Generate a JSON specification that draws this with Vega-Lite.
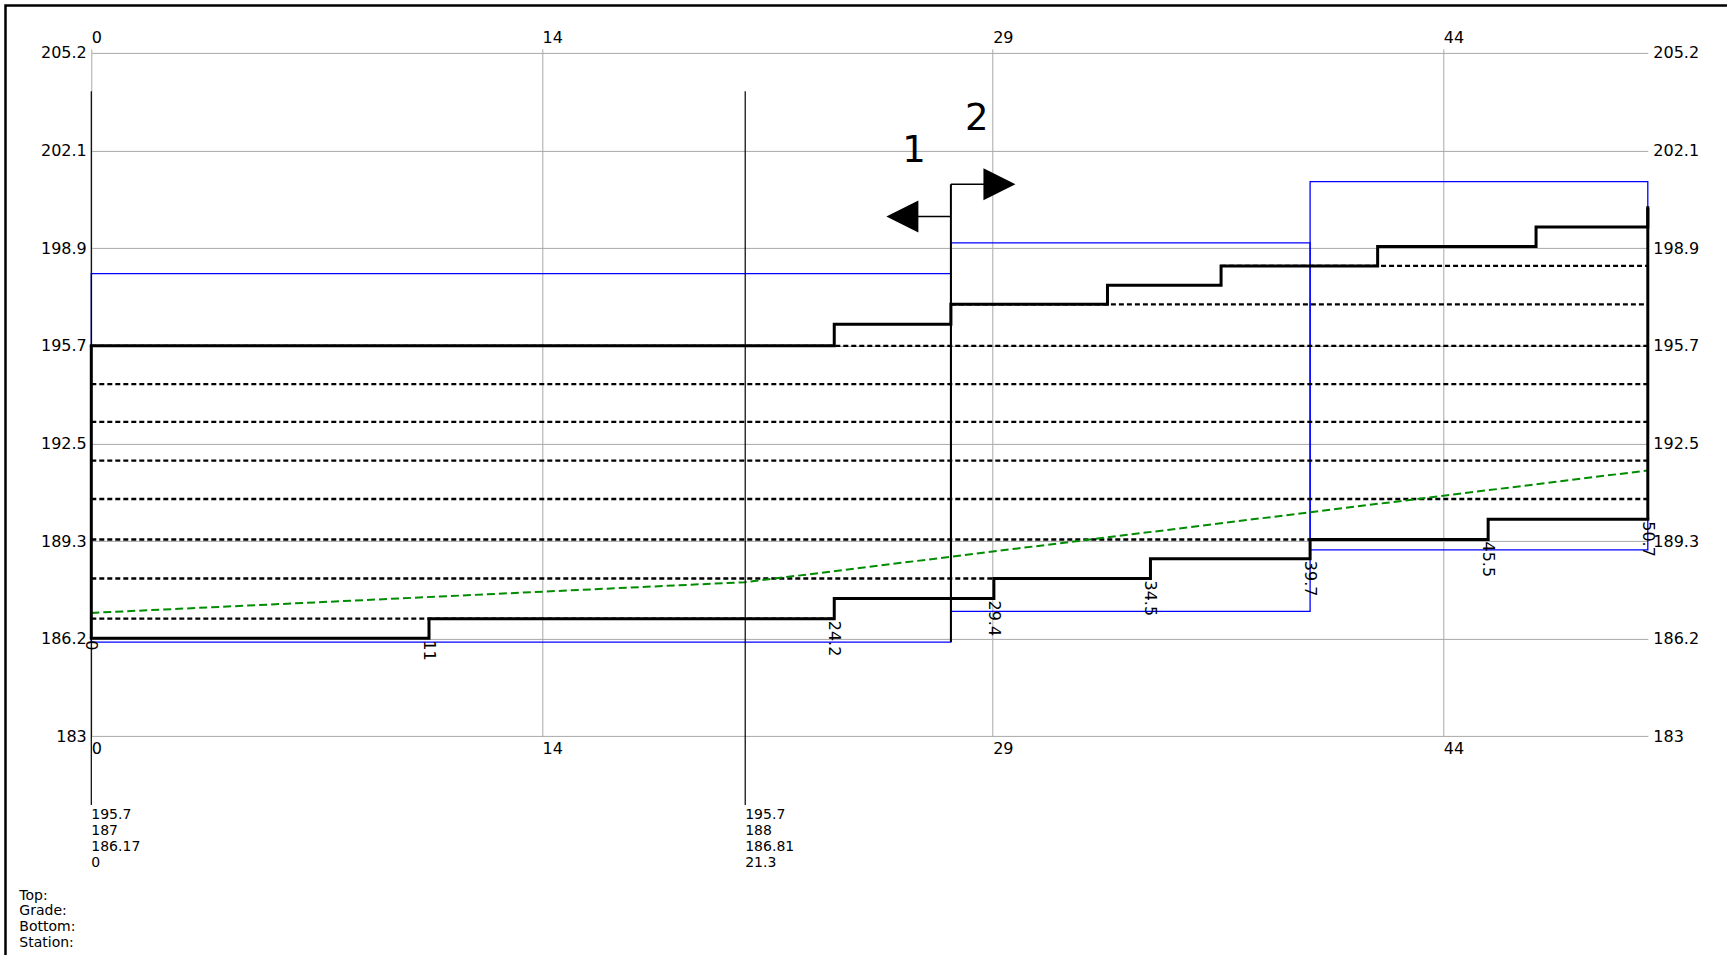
{
  "$schema": "https://vega.github.io/schema/vega-lite/v6.json",
  "width": 1556.5,
  "height": 683.4,
  "autosize": {"type": "none"},
  "padding": {"left": 91.3, "top": 52.9, "right": 79.2, "bottom": 218.7},
  "background": "white",
  "config": {
    "view": {"stroke": null},
    "font": "DejaVu Sans",
    "text": {"font": "DejaVu Sans", "color": "black"},
    "axis": {"labelFont": "DejaVu Sans", "labelFontSize": 16, "labelColor": "black", "domain": false, "title": null, "labelFlush": false, "labelOverlap": false, "gridColor": "#a8a8a8", "gridWidth": 1}
  },
  "resolve": {"scale": {"x": "shared", "y": "shared"}, "axis": {"x": "independent", "y": "independent"}},
  "layer": [
    {
      "data": {"values": [{"section": 1, "start": 0, "end": 28, "top": 198.05, "bottom": 186.05}, {"section": 2, "start": 28, "end": 39.7, "top": 199.05, "bottom": 187.05}, {"section": 3, "start": 39.7, "end": 50.7, "top": 201.05, "bottom": 189.05}]},
      "mark": {"type": "rect", "fill": "transparent", "stroke": "#0000ff", "strokeWidth": 1.3},
      "encoding": {
        "x": {"field": "start", "type": "quantitative", "scale": {"domain": [0, 50.7], "nice": false, "zero": false},
          "axis": {"orient": "top", "values": [0, 14.68, 29.36, 44.04], "labelExpr": "'' + floor(datum.value)", "grid": true, "ticks": true, "tickSize": 4, "tickColor": "#a8a8a8", "labelAlign": "left", "labelBaseline": "bottom", "labelPadding": 3}},
        "x2": {"field": "end"},
        "y": {"field": "top", "type": "quantitative", "scale": {"domain": [182.98, 205.24], "nice": false, "zero": false},
          "axis": {"orient": "left", "values": [182.98, 186.16, 189.34, 192.52, 195.7, 198.88, 202.06, 205.24], "format": ".1~f", "grid": true, "ticks": false, "labelPadding": 5}},
        "y2": {"field": "bottom"}
      }
    },
    {
      "data": {"values": [{"level": 186.81, "from": 0, "to": 24.2}, {"level": 188.12, "from": 0, "to": 29.4}, {"level": 189.39, "from": 0, "to": 45.5}, {"level": 190.71, "from": 0, "to": 50.7}, {"level": 191.96, "from": 0, "to": 50.7}, {"level": 193.22, "from": 0, "to": 50.7}, {"level": 194.45, "from": 0, "to": 50.7}, {"level": 195.7, "from": 0, "to": 50.7}, {"level": 197.05, "from": 28, "to": 50.7}, {"level": 198.3, "from": 36.8, "to": 50.7}]},
      "mark": {"type": "rule", "color": "black", "strokeWidth": 2.3, "strokeDash": [5, 3]},
      "encoding": {
        "x": {"field": "from", "type": "quantitative", "axis": null},
        "x2": {"field": "to"},
        "y": {"field": "level", "type": "quantitative", "axis": null}
      }
    },
    {
      "data": {"values": [{"station": 0, "grade": 187.0}, {"station": 21.3, "grade": 188.0}, {"station": 50.7, "grade": 191.64}]},
      "mark": {"type": "line", "color": "#008c00", "strokeWidth": 2, "strokeDash": [8, 4]},
      "encoding": {
        "x": {"field": "station", "type": "quantitative", "axis": null},
        "y": {"field": "grade", "type": "quantitative", "axis": null}
      }
    },
    {
      "data": {"values": [
        {"profile": "upper", "station": 0, "elev": 195.7}, {"profile": "upper", "station": 24.2, "elev": 196.4}, {"profile": "upper", "station": 28, "elev": 197.05}, {"profile": "upper", "station": 33.1, "elev": 197.67}, {"profile": "upper", "station": 36.8, "elev": 198.3}, {"profile": "upper", "station": 41.9, "elev": 198.93}, {"profile": "upper", "station": 47.06, "elev": 199.57}, {"profile": "upper", "station": 50.7, "elev": 200.2},
        {"profile": "lower", "station": 0, "elev": 186.17}, {"profile": "lower", "station": 11, "elev": 186.81}, {"profile": "lower", "station": 24.2, "elev": 187.47}, {"profile": "lower", "station": 29.4, "elev": 188.12}, {"profile": "lower", "station": 34.5, "elev": 188.76}, {"profile": "lower", "station": 39.7, "elev": 189.39}, {"profile": "lower", "station": 45.5, "elev": 190.05}, {"profile": "lower", "station": 50.7, "elev": 190.05}
      ]},
      "mark": {"type": "line", "color": "black", "strokeWidth": 3, "interpolate": "step-after", "strokeJoin": "miter", "strokeCap": "square"},
      "encoding": {
        "detail": {"field": "profile"},
        "x": {"field": "station", "type": "quantitative", "scale": {"domain": [0, 50.7], "nice": false, "zero": false},
          "axis": {"orient": "bottom", "values": [0, 14.68, 29.36, 44.04], "labelExpr": "'' + floor(datum.value)", "grid": false, "ticks": false, "labelAlign": "left", "labelBaseline": "top", "labelPadding": 4.5}},
        "y": {"field": "elev", "type": "quantitative", "scale": {"domain": [182.98, 205.24], "nice": false, "zero": false},
          "axis": {"orient": "right", "values": [182.98, 186.16, 189.34, 192.52, 195.7, 198.88, 202.06, 205.24], "format": ".1~f", "grid": false, "ticks": false, "labelPadding": 5}}
      }
    },
    {
      "data": {"values": [{"station": 0, "from": 186.17, "to": 195.7}, {"station": 50.7, "from": 190.05, "to": 200.2}]},
      "mark": {"type": "rule", "color": "black", "strokeWidth": 3},
      "encoding": {
        "x": {"field": "station", "type": "quantitative", "axis": null},
        "y": {"field": "from", "type": "quantitative", "axis": null},
        "y2": {"field": "to"}
      }
    },
    {
      "data": {"values": [{"station": 0, "top": 195.7, "grade": 187, "bottom": 186.17}, {"station": 21.3, "top": 195.7, "grade": 188, "bottom": 186.81}]},
      "transform": [{"calculate": "datum.top + '\\n' + datum.grade + '\\n' + datum.bottom + '\\n' + datum.station", "as": "label"}],
      "layer": [
        {
          "mark": {"type": "rule", "color": "black", "strokeWidth": 1.2},
          "encoding": {
            "x": {"field": "station", "type": "quantitative", "axis": null},
            "y": {"datum": 180.74, "type": "quantitative", "axis": null},
            "y2": {"datum": 203.99}
          }
        },
        {
          "mark": {"type": "text", "fontSize": 14, "align": "left", "baseline": "top", "lineBreak": "\n", "lineHeight": 15.8, "color": "black"},
          "encoding": {
            "x": {"field": "station", "type": "quantitative", "axis": null},
            "y": {"datum": 180.63, "type": "quantitative", "axis": null},
            "text": {"field": "label", "type": "nominal"}
          }
        }
      ]
    },
    {
      "data": {"values": [{"station": 28}]},
      "mark": {"type": "rule", "color": "black", "strokeWidth": 2},
      "encoding": {
        "x": {"field": "station", "type": "quantitative", "axis": null},
        "y": {"datum": 186.05, "type": "quantitative", "axis": null},
        "y2": {"datum": 200.96}
      }
    },
    {
      "data": {"values": [{"label": "1", "dir": "left", "elev": 199.91, "head": 26.42, "lx": 26.8, "ly": 201.7}, {"label": "2", "dir": "right", "elev": 200.96, "head": 29.58, "lx": 28.84, "ly": 202.73}]},
      "layer": [
        {
          "mark": {"type": "rule", "color": "black", "strokeWidth": 1.5},
          "encoding": {
            "x": {"field": "head", "type": "quantitative", "axis": null},
            "x2": {"datum": 28},
            "y": {"field": "elev", "type": "quantitative", "axis": null}
          }
        },
        {
          "mark": {"type": "point", "filled": true, "color": "black", "size": 1024, "opacity": 1, "strokeWidth": 0},
          "encoding": {
            "x": {"field": "head", "type": "quantitative", "axis": null},
            "y": {"field": "elev", "type": "quantitative", "axis": null},
            "shape": {"field": "dir", "type": "nominal", "scale": {"domain": ["left", "right"], "range": ["M1,-1L-1,0L1,1Z", "M-1,-1L1,0L-1,1Z"]}, "legend": null}
          }
        },
        {
          "mark": {"type": "text", "fontSize": 37, "align": "center", "baseline": "alphabetic", "color": "black"},
          "encoding": {
            "x": {"field": "lx", "type": "quantitative", "axis": null},
            "y": {"field": "ly", "type": "quantitative", "axis": null},
            "text": {"field": "label", "type": "nominal"}
          }
        }
      ]
    },
    {
      "data": {"values": [{"station": 0, "elev": 186.17}, {"station": 11, "elev": 186.17}, {"station": 24.2, "elev": 186.81}, {"station": 29.4, "elev": 187.47}, {"station": 34.5, "elev": 188.12}, {"station": 39.7, "elev": 188.76}, {"station": 45.5, "elev": 189.39}, {"station": 50.7, "elev": 190.05}]},
      "mark": {"type": "text", "fontSize": 16, "angle": 90, "align": "left", "baseline": "middle", "dx": 2, "color": "black"},
      "encoding": {
        "x": {"field": "station", "type": "quantitative", "axis": null},
        "y": {"field": "elev", "type": "quantitative", "axis": null},
        "text": {"field": "station", "type": "nominal"}
      }
    },
    {
      "data": {"values": [{}]},
      "mark": {"type": "text", "fontSize": 14, "align": "left", "baseline": "top", "lineBreak": "\n", "lineHeight": 15.8, "color": "black", "text": "Top:\nGrade:\nBottom:\nStation:"},
      "encoding": {
        "x": {"datum": -2.345, "type": "quantitative", "axis": null},
        "y": {"datum": 178.02, "type": "quantitative", "axis": null}
      }
    },
    {
      "data": {"values": [{}]},
      "mark": {"type": "rect", "fill": "transparent", "stroke": "black", "strokeWidth": 2.5},
      "encoding": {
        "x": {"datum": -2.795, "type": "quantitative", "axis": null},
        "x2": {"datum": 60},
        "y": {"datum": 206.78, "type": "quantitative", "axis": null},
        "y2": {"datum": 170}
      }
    }
  ]
}
